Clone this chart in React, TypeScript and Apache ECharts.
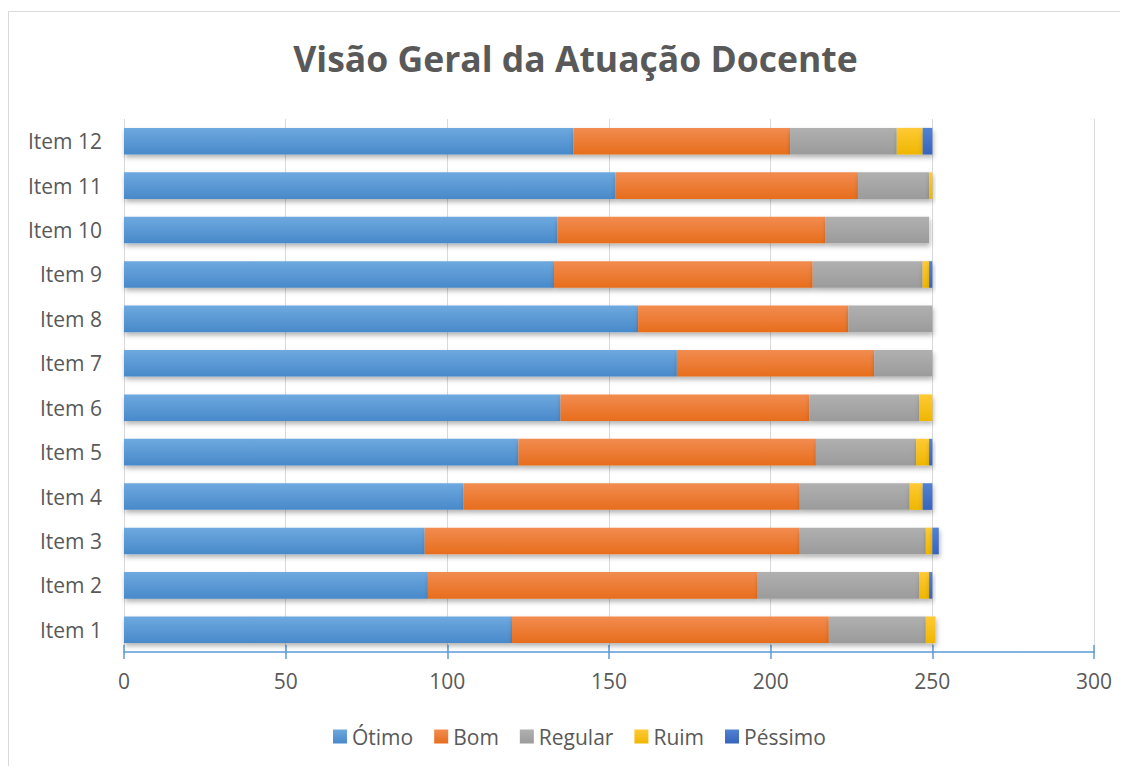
import React, { useEffect, useRef } from "react";
import * as echarts from "echarts";

const categories = ["Item 1", "Item 2", "Item 3", "Item 4", "Item 5", "Item 6", "Item 7", "Item 8", "Item 9", "Item 10", "Item 11", "Item 12"];
const otimo = [120, 94, 93, 105, 122, 135, 171, 159, 133, 134, 152, 139];
const bom = [98, 102, 116, 104, 92, 77, 61, 65, 80, 83, 75, 67];
const regular = [30, 50, 39, 34, 31, 34, 18, 26, 34, 32, 22, 33];
const ruim = [3, 3, 2, 4, 4, 4, 0, 0, 2, 0, 1, 8];
const pessimo = [0, 1, 2, 3, 1, 0, 0, 0, 1, 0, 0, 3];
const titleText = "Visão Geral da Atuação Docente";

const FONT = "'Open Sans', sans-serif";

function grad(top: string, bottom: string) {
  return new echarts.graphic.LinearGradient(0, 0, 0, 1, [
    { offset: 0, color: top },
    { offset: 1, color: bottom },
  ]);
}

export default function App() {
  const ref = useRef<HTMLDivElement>(null);
  useEffect(() => {
    if (!ref.current) return;
    const chart = echarts.init(ref.current, null, { renderer: "svg" });
    const seriesDefs = [
      { name: "Ótimo", data: otimo, c: grad("#6EA9DF", "#4889CA") },
      { name: "Bom", data: bom, c: grad("#F28C50", "#E76D1C") },
      { name: "Regular", data: regular, c: grad("#B0B0B0", "#9B9B9B") },
      { name: "Ruim", data: ruim, c: grad("#FFCA35", "#EFB600") },
      { name: "Péssimo", data: pessimo, c: grad("#5282D2", "#3764BC") },
    ];
    chart.setOption({
      animation: false,
      backgroundColor: "#ffffff",
      graphic: [
        {
          type: "text",
          x: 566.5,
          y: 46,
          style: {
            text: titleText,
            textAlign: "center",
            textVerticalAlign: "middle",
            fontFamily: FONT,
            fontWeight: "bold",
            fontSize: 35.5,
            fill: "#595959",
          },
        },
      ],
      legend: {
        top: 709,
        left: 319,
        itemWidth: 14,
        itemHeight: 14,
        itemGap: 21,
        icon: "rect",
        textStyle: { fontFamily: FONT, fontSize: 21, color: "#595959" },
        data: seriesDefs.map((s) => s.name),
      },
      grid: { left: 115, right: 33, top: 107, bottom: 114, containLabel: false },
      xAxis: [
        {
          type: "value",
          min: 0,
          max: 300,
          interval: 50,
          axisLine: { show: true, lineStyle: { color: "#5B9BD5", width: 1.5 } },
          axisTick: { show: true, length: 7, lineStyle: { color: "#5B9BD5", width: 1.5 } },
          axisLabel: { fontFamily: FONT, fontSize: 21, color: "#595959", margin: 18 },
          splitLine: { show: true, lineStyle: { color: "#D9D9D9", width: 1 } },
        },
        {
          type: "value",
          min: 0,
          max: 300,
          interval: 50,
          position: "bottom",
          axisLine: { show: false },
          axisTick: { show: true, inside: true, length: 7, lineStyle: { color: "#5B9BD5", width: 1.5 } },
          axisLabel: { show: false },
          splitLine: { show: false },
        },
      ],
      yAxis: {
        type: "category",
        data: categories,
        axisLine: { show: false },
        axisTick: { show: false },
        axisLabel: { fontFamily: FONT, fontSize: 21, color: "#595959", margin: 22 },
      },
      series: seriesDefs.map((s) => ({
        name: s.name,
        type: "bar",
        stack: "total",
        barCategoryGap: "40%",
        data: s.data,
        itemStyle: {
          color: s.c,
          shadowColor: "rgba(0,0,0,0.3)",
          shadowBlur: 5,
          shadowOffsetY: 3,
          shadowOffsetX: 1,
        },
      })),
    });
    return () => chart.dispose();
  }, []);
  return (
    <div
      ref={ref}
      style={{
        width: 1119,
        height: 755,
        marginTop: 3,
        borderLeft: "1px solid #D9D9D9",
        borderTop: "1px solid #D9D9D9",
        boxSizing: "border-box",
      }}
    />
  );
}
